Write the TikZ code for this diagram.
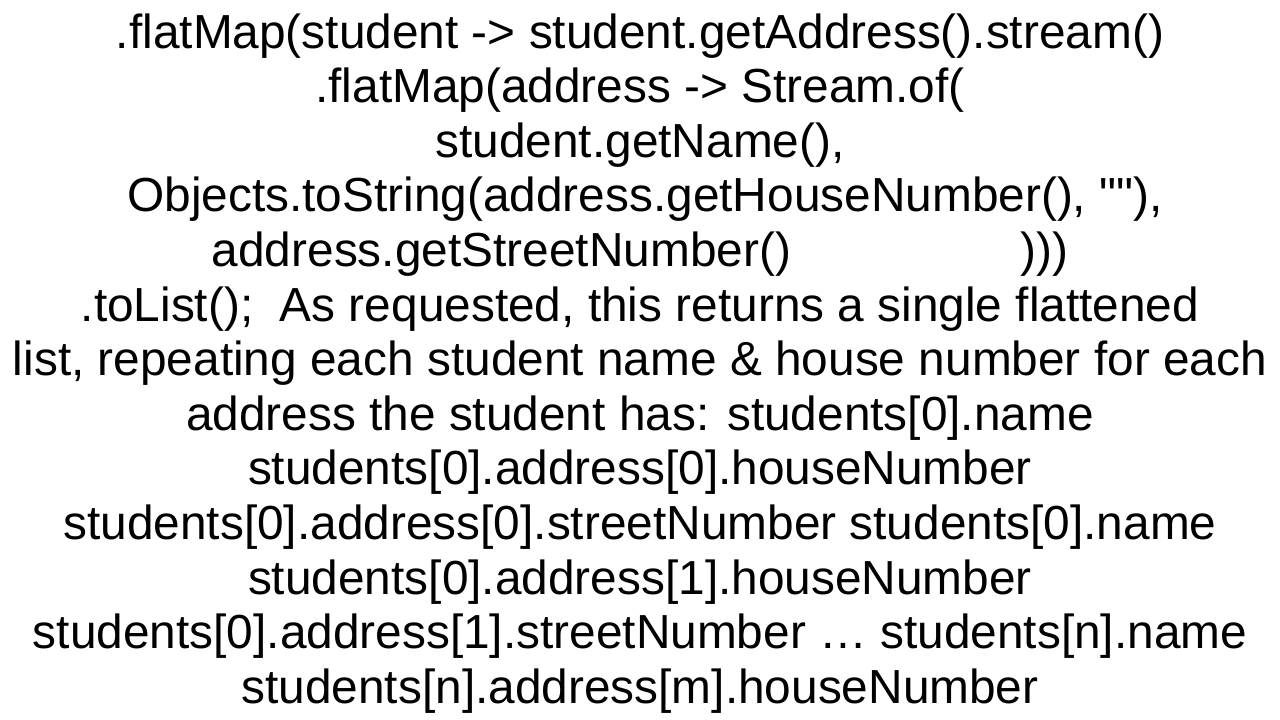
\documentclass[tikz,border=0pt]{standalone}
\usepackage{fontspec}
\setmainfont{Liberation Sans}
\begin{document}
\begin{tikzpicture}[x=1pt,y=-1pt,ln/.style={anchor=base,font=\fontsize{47.8}{52}\selectfont,inner sep=0pt}]
\useasboundingbox[fill=white] (0,0) rectangle (1280,720);
\node[ln] (l1) at (640,48) {.flatMap(student -> student.getAddress().stream()};
\node[ln] (l2) at (640,102.6) {.flatMap(address -> Stream.of(};
\node[ln] (l3) at (640,157.2) {student.getName(),};
\node[ln] (l4) at (645,211.8) {Objects.toString(address.getHouseNumber(), \textquotedbl\textquotedbl),};
\node[ln] (l5) at (640,266.4) {address.getStreetNumber()\hspace{4.8em})))};
\node[ln] (l6) at (640,321) {.toList();\ \ As requested, this returns a single flattened};
\node[ln] (l7) at (640,375.6) {list, repeating each student name \& house number for each};
\node[ln] (l8) at (640,430.2) {address the student has: students[0].name};
\node[ln] (l9) at (640,484.8) {students[0].address[0].houseNumber};
\node[ln] (l10) at (640,539.4) {students[0].address[0].streetNumber students[0].name};
\node[ln] (l11) at (640,594) {students[0].address[1].houseNumber};
\node[ln] (l12) at (640,648.6) {students[0].address[1].streetNumber … students[n].name};
\node[ln] (l13) at (640,703.2) {students[n].address[m].houseNumber};
\end{tikzpicture}
\end{document}
